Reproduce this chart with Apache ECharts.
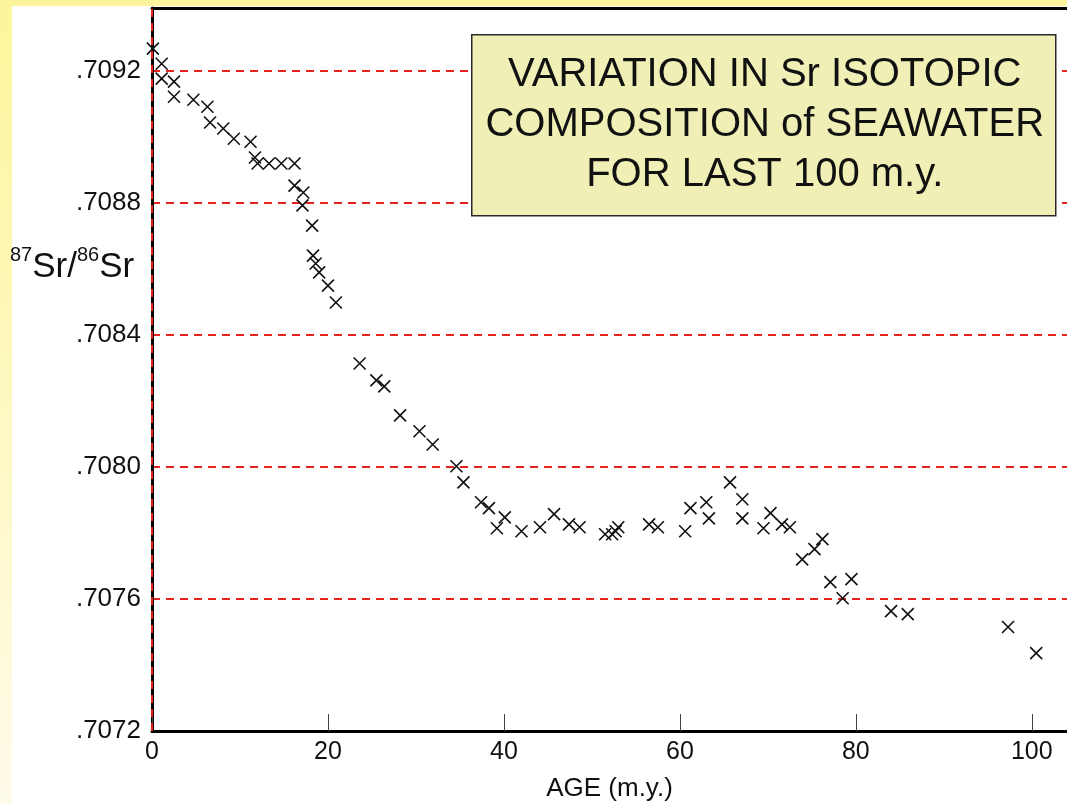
<!DOCTYPE html>
<html>
<head>
<meta charset="utf-8">
<title>Sr isotopic composition of seawater</title>
<script src="https://cdn.jsdelivr.net/npm/echarts@6/dist/echarts.min.js"></script>
<style>
  html, body {
    margin: 0;
    padding: 0;
    width: 1067px;
    height: 804px;
    overflow: hidden;
    background: linear-gradient(to bottom, #fdf59b 0%, #fef9c8 60%, #fffbea 100%);
  }
  .paper {
    position: absolute;
    left: 12px;
    top: 6px;
    right: 0;
    bottom: 0;
    background: #fff;
  }
  #main {
    position: absolute;
    left: 0;
    top: 0;
    width: 1067px;
    height: 804px;
  }
</style>
</head>
<body>
<div class="paper"></div>
<div id="main"></div>
<script>
// age in m.y.
var ages = [
  0.1, 1.1, 1.1, 2.5, 2.5, 4.7, 6.3, 6.6, 8.1, 9.3,
  11.2, 11.7, 12.0, 13.3, 14.7, 16.2, 16.2, 17.2, 17.1, 18.2,
  18.3, 18.6, 19.0, 20.0, 20.9, 23.6, 25.5, 26.4, 28.2, 30.4,
  31.9, 34.6, 35.4, 37.4, 38.3, 39.2, 40.1, 42.0, 44.1, 45.7,
  47.4, 48.6, 51.5, 52.3, 52.7, 53.0, 56.5, 57.5, 60.6, 61.2,
  63.0, 63.3, 65.7, 67.1, 67.1, 69.5, 70.3, 71.6, 72.5, 73.9,
  75.3, 76.2, 77.1, 78.5, 79.5, 84.0, 85.9, 97.3, 100.5
];
// 87Sr/86Sr
var ratios = [
  0.709267, 0.709221, 0.709176, 0.709167, 0.709121, 0.709112, 0.709091, 0.709043, 0.709025, 0.708994,
  0.708985, 0.708937, 0.708919, 0.708919, 0.708919, 0.708919, 0.708852, 0.708831, 0.708792, 0.708731,
  0.708640, 0.708616, 0.708589, 0.708549, 0.708498, 0.708313, 0.708262, 0.708244, 0.708156, 0.708108,
  0.708068, 0.708002, 0.707953, 0.707893, 0.707875, 0.707814, 0.707847, 0.707805, 0.707817, 0.707857,
  0.707826, 0.707817, 0.707796, 0.707796, 0.707805, 0.707817, 0.707826, 0.707817, 0.707805, 0.707875,
  0.707893, 0.707844, 0.707953, 0.707902, 0.707844, 0.707814, 0.707860, 0.707826, 0.707817, 0.707720,
  0.707751, 0.707781, 0.707651, 0.707602, 0.707660, 0.707563, 0.707554, 0.707515, 0.707436
];
var xTicks = [0, 20, 40, 60, 80, 100];
var titleLines = ["VARIATION IN Sr ISOTOPIC", "COMPOSITION of SEAWATER", "FOR LAST 100 m.y."];

var yMin = 0.7072;
var yMax = 0.70939;

var points = ages.map(function (a, i) { return [a, ratios[i]]; });

var chart = echarts.init(document.getElementById("main"), null, { renderer: "canvas" });

var red = "#e8231f";
var font = "'Liberation Sans', Arial, Helvetica, sans-serif";

var option = {
  backgroundColor: "transparent",
  animation: false,
  textStyle: { fontFamily: font },
  grid: {
    left: 152,
    top: 8,
    right: 0,
    bottom: 73,
    containLabel: false,
    outerBoundsMode: "none"
  },
  xAxis: [
    {
      type: "value",
      min: 0,
      max: 104,
      interval: 20,
      name: "AGE (m.y.)",
      nameLocation: "middle",
      nameGap: 45,
      nameTextStyle: { fontSize: 26, color: "#111", fontFamily: font },
      axisLine: { show: true, onZero: false, lineStyle: { color: "#000", width: 3 } },
      axisTick: { show: true, inside: true, length: 17, lineStyle: { color: "#444", width: 1 } },
      axisLabel: {
        fontSize: 25,
        color: "#111",
        margin: 9,
        showMaxLabel: false,
        formatter: function (v) { return xTicks.indexOf(v) >= 0 ? String(v) : ""; }
      },
      splitLine: { show: false }
    },
    {
      type: "value",
      position: "top",
      min: 0,
      max: 104,
      axisLine: { show: true, onZero: false, lineStyle: { color: "#000", width: 3 } },
      axisTick: { show: false },
      axisLabel: { show: false },
      splitLine: { show: false }
    }
  ],
  yAxis: {
    type: "value",
    min: yMin,
    max: yMax,
    interval: 0.0004,
    axisLine: { show: true, onZero: false, lineStyle: { color: "#000", width: 3 } },
    axisTick: { show: false },
    axisLabel: {
      fontSize: 26,
      color: "#111",
      margin: 11,
      showMaxLabel: false,
      formatter: function (v) { return v.toFixed(4).replace(/^0/, ""); }
    },
    splitLine: {
      show: true,
      showMinLine: false,
      showMaxLine: false,
      lineStyle: { color: red, width: 2, type: [8, 6] }
    }
  },
  graphic: [
    {
      type: "text",
      left: 10,
      top: 245,
      z: 100,
      style: {
        text: "{sup|87}{b|Sr/}{sup|86}{b|Sr}",
        rich: {
          sup: { fontSize: 20, fontFamily: font, fill: "#111", verticalAlign: "top", lineHeight: 40 },
          b: { fontSize: 35, fontFamily: font, fill: "#111", verticalAlign: "bottom", lineHeight: 40 }
        }
      }
    },
    {
      type: "group",
      left: 471,
      top: 34,
      z: 100,
      children: [
        {
          type: "rect",
          z: 100,
          shape: { x: 0, y: 0, width: 584, height: 181 },
          style: { fill: "#efefb6", stroke: "#2a2a2a", lineWidth: 1.5 }
        },
        {
          type: "text",
          z: 101,
          x: 293,
          y: 90,
          style: {
            text: titleLines.join("\n"),
            fontSize: 40,
            lineHeight: 50,
            fontFamily: font,
            fill: "#111",
            align: "center",
            verticalAlign: "middle"
          }
        }
      ]
    }
  ],
  series: [
    {
      type: "scatter",
      data: points,
      symbol: "path://M0,0L10,10M10,0L0,10",
      symbolSize: 12,
      itemStyle: { color: "none", borderColor: "#111", borderWidth: 1.6, opacity: 1 },
      markLine: {
        silent: true,
        symbol: "none",
        label: { show: false },
        lineStyle: { color: red, width: 2, type: [8, 6] },
        data: [{ xAxis: 0 }, { yAxis: yMax }]
      },
      z: 3
    }
  ]
};

chart.setOption(option);
</script>
</body>
</html>
